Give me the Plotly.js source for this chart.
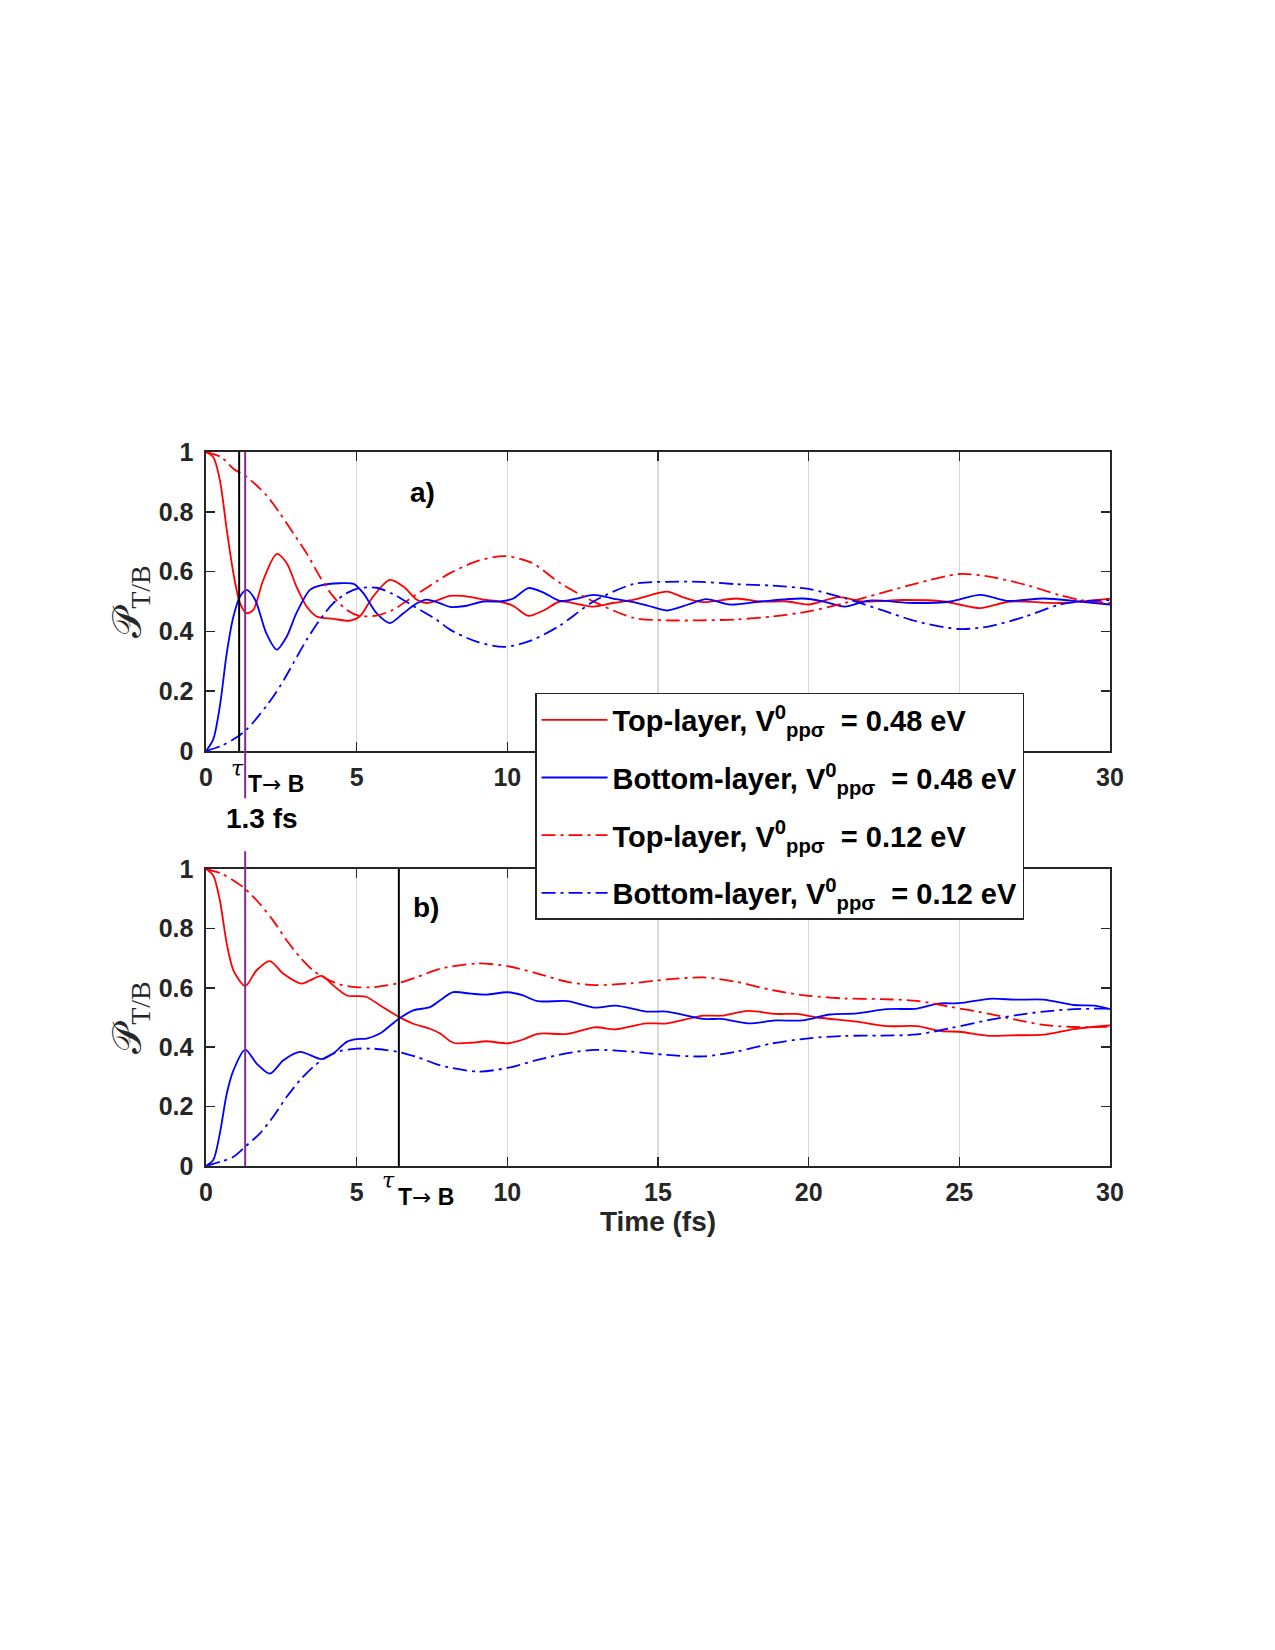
<!DOCTYPE html>
<html>
<head>
<meta charset="utf-8">
<script src="https://cdn.plot.ly/plotly-3.0.1.min.js"></script>
<style>html,body{margin:0;padding:0;background:#fff;}#chart{width:1275px;height:1650px;}</style>
</head>
<body>
<div id="chart"></div>
<script>
// ---------- Data ----------
// Panel a) — V0_ppσ = 0.48 eV (solid) and 0.12 eV (dash-dot)
const tA_top48 = [0,0.24,0.46,0.69,0.91,1.13,1.35,1.57,1.9,2.35,2.68,3.0,3.34,3.67,4.22,4.78,5.1,5.55,6.1,6.55,7.0,7.32,7.7,8.1,8.8,9.2,9.75,10.2,10.7,11.2,11.75,12.4,12.86,13.5,14.2,14.7,15.3,15.9,16.5,17.6,18.4,19.3,20.0,21.0,21.8,23.1,24.5,25.0,25.7,26.7,28.3,30];
const pA_top48 = [1.0,0.983,0.906,0.739,0.594,0.494,0.461,0.472,0.572,0.659,0.628,0.55,0.483,0.45,0.442,0.436,0.45,0.517,0.572,0.55,0.506,0.495,0.505,0.519,0.515,0.506,0.5,0.485,0.452,0.47,0.5,0.49,0.483,0.495,0.506,0.52,0.533,0.512,0.498,0.51,0.5,0.5,0.49,0.515,0.5,0.505,0.5,0.49,0.478,0.5,0.495,0.51];

const tA_bot48 = [0,0.24,0.46,0.69,0.91,1.13,1.35,1.63,2.0,2.35,2.68,3.0,3.45,3.78,4.45,4.9,5.22,5.66,6.1,6.55,7.0,7.32,7.77,8.1,8.6,9.2,9.75,10.2,10.7,11.2,11.75,12.3,12.86,13.5,14.2,14.7,15.3,16.0,16.6,17.4,18.4,19.8,20.5,21.2,22.0,23.5,24.7,25.7,26.6,27.8,29.0,30];
const pA_bot48 = [0,0.039,0.15,0.328,0.45,0.517,0.539,0.506,0.394,0.339,0.383,0.461,0.539,0.553,0.561,0.559,0.528,0.461,0.428,0.461,0.494,0.506,0.494,0.482,0.485,0.5,0.5,0.51,0.545,0.53,0.502,0.51,0.522,0.51,0.498,0.485,0.47,0.49,0.508,0.49,0.5,0.51,0.5,0.483,0.503,0.495,0.5,0.522,0.502,0.51,0.5,0.49];

const tA_12 = [0,0.5,0.91,1.35,2.0,2.46,2.9,3.34,3.78,4.22,4.67,5.1,5.66,6.2,6.88,7.65,8.1,9.0,9.9,10.8,11.75,12.86,14.2,15.3,16.4,17.6,18.8,20.0,21.2,22.4,23.6,25.0,26.0,27.2,28.3,29.0,30];
const pA_top12 = [1.0,0.983,0.944,0.917,0.856,0.794,0.728,0.661,0.583,0.517,0.472,0.452,0.453,0.472,0.517,0.567,0.595,0.635,0.652,0.63,0.562,0.5,0.445,0.437,0.437,0.44,0.45,0.467,0.495,0.528,0.561,0.592,0.583,0.556,0.522,0.505,0.495];
const pA_bot12 = [0,0.017,0.039,0.072,0.15,0.217,0.294,0.372,0.439,0.494,0.528,0.545,0.546,0.525,0.485,0.439,0.406,0.365,0.348,0.37,0.42,0.5,0.559,0.566,0.566,0.558,0.553,0.542,0.511,0.472,0.433,0.408,0.417,0.45,0.489,0.5,0.505];

// Panel b)
const tB_top48 = [0,0.24,0.46,0.69,0.91,1.3,1.68,2.12,2.57,3.17,3.45,3.84,4.22,4.67,5.0,5.33,5.77,6.4,6.88,7.43,7.77,8.2,8.8,9.3,10.0,10.5,11.0,12.0,12.9,13.6,14.6,15.3,16.5,17.1,18.0,18.9,19.6,20.3,21.6,22.6,23.6,24.4,25.0,26.0,26.7,27.8,28.8,30];
const pB_top48 = [1.0,0.978,0.894,0.748,0.659,0.606,0.659,0.69,0.647,0.614,0.625,0.64,0.608,0.574,0.572,0.569,0.541,0.502,0.479,0.462,0.446,0.415,0.415,0.42,0.413,0.425,0.445,0.445,0.467,0.46,0.48,0.48,0.506,0.506,0.522,0.512,0.512,0.5,0.486,0.471,0.471,0.454,0.452,0.438,0.44,0.442,0.461,0.473];

const tB_bot48 = [0,0.24,0.46,0.69,0.91,1.3,1.68,2.12,2.57,3.12,3.84,4.22,4.67,5.0,5.33,5.77,6.4,6.88,7.43,7.77,8.2,8.8,9.3,10.0,10.5,11.0,12.0,12.9,13.6,14.6,15.3,16.5,17.1,18.0,18.9,19.8,20.7,21.6,22.6,23.6,24.3,25.0,26.0,26.9,27.8,28.8,29.5,30];
const pB_bot48 = [0,0.02,0.11,0.244,0.322,0.392,0.345,0.311,0.356,0.384,0.36,0.379,0.418,0.427,0.429,0.446,0.496,0.524,0.535,0.558,0.585,0.58,0.577,0.585,0.575,0.555,0.555,0.533,0.54,0.52,0.52,0.495,0.495,0.48,0.49,0.49,0.51,0.514,0.528,0.53,0.547,0.548,0.563,0.56,0.56,0.542,0.54,0.528];

const tB_12 = [0,0.5,0.91,1.3,1.79,2.23,2.68,3.12,3.56,4.0,4.45,5.0,5.55,6.0,6.4,7.0,7.77,9.0,10.0,11.0,12.0,12.9,14.1,15.3,16.5,17.6,18.8,20.0,21.2,22.4,23.6,24.7,26.0,26.9,27.8,28.8,30];
const pB_top12 = [1.0,0.985,0.961,0.933,0.882,0.826,0.759,0.703,0.658,0.63,0.611,0.602,0.602,0.608,0.616,0.636,0.664,0.682,0.673,0.648,0.62,0.609,0.615,0.628,0.635,0.62,0.592,0.573,0.564,0.562,0.556,0.536,0.512,0.492,0.475,0.468,0.469];
const pB_bot12 = [0,0.015,0.031,0.065,0.11,0.166,0.233,0.289,0.334,0.367,0.387,0.395,0.395,0.39,0.384,0.367,0.339,0.318,0.33,0.357,0.38,0.391,0.385,0.374,0.369,0.385,0.413,0.43,0.438,0.439,0.443,0.464,0.492,0.508,0.52,0.528,0.53];

// Marker times (fs)
const tauA = 1.1;    // τ T→B, panel a
const mark13 = 1.3;  // 1.3 fs marker
const tauB = 6.4;    // τ T→B, panel b

const legendNames = [
  'Top-layer, V<sup>0</sup><sub>ppσ</sub>\u00a0 = 0.48 eV',
  'Bottom-layer, V<sup>0</sup><sub>ppσ</sub>\u00a0 = 0.48 eV',
  'Top-layer, V<sup>0</sup><sub>ppσ</sub>\u00a0 = 0.12 eV',
  'Bottom-layer, V<sup>0</sup><sub>ppσ</sub>\u00a0 = 0.12 eV'
];
const xTicks = [0,5,10,15,20,25,30];
const xTickTextA = ['0','5','10','','','','30'];   // 15–25 are hidden behind the legend in panel a
const xTickTextB = ['0','5','10','15','20','25','30'];
const yTicks = [0,0.2,0.4,0.6,0.8,1];
const yTickText = ['0','0.2','0.4','0.6','0.8','1'];

// ---------- Styling ----------
const RED = '#ff0000', BLUE = '#0000ff', PURPLE = '#7e2f8e', AX = '#262626';
const DASHDOT = '14px,5px,3px,5px';
const LW = 1.8;
const FONT = 'Liberation Sans, Arial, Helvetica, sans-serif';

function tr(x, y, color, dash, name, xa, ya, showlegend, group) {
  return {
    x: x, y: y, type: 'scatter', mode: 'lines', name: name,
    xaxis: xa, yaxis: ya, showlegend: showlegend, legendgroup: group,
    line: {color: color, width: LW, dash: dash, shape: 'spline', smoothing: 0.8},
    hoverinfo: 'skip'
  };
}

const data = [
  tr(tA_top48, pA_top48, RED, 'solid', legendNames[0], 'x', 'y', true, 'g1'),
  tr(tA_bot48, pA_bot48, BLUE, 'solid', legendNames[1], 'x', 'y', true, 'g2'),
  tr(tA_12, pA_top12, RED, DASHDOT, legendNames[2], 'x', 'y', true, 'g3'),
  tr(tA_12, pA_bot12, BLUE, DASHDOT, legendNames[3], 'x', 'y', true, 'g4'),
  tr(tB_top48, pB_top48, RED, 'solid', legendNames[0], 'x2', 'y2', false, 'g1'),
  tr(tB_bot48, pB_bot48, BLUE, 'solid', legendNames[1], 'x2', 'y2', false, 'g2'),
  tr(tB_12, pB_top12, RED, DASHDOT, legendNames[2], 'x2', 'y2', false, 'g3'),
  tr(tB_12, pB_bot12, BLUE, DASHDOT, legendNames[3], 'x2', 'y2', false, 'g4')
];

const tickFont = {family: FONT, size: 25, color: AX, weight: 'bold'};

function xAxis(anchor, ticktext, title) {
  const a = {
    anchor: anchor, domain: [0, 1], range: [0, 30], tickvals: xTicks, ticktext: ticktext,
    showgrid: true, gridcolor: '#dadada', gridwidth: 1.5,
    zeroline: false, showline: true, linecolor: AX, linewidth: 1.6,
    mirror: 'ticks', ticks: 'inside', ticklen: 9, tickwidth: 1.6, tickcolor: AX,
    tickfont: tickFont, ticklabelstandoff: 3, fixedrange: true
  };
  if (title) a.title = {text: title, font: {family: FONT, size: 28, color: AX, weight: 'bold'}, standoff: 2};
  return a;
}
function yAxis(anchor, domain) {
  return {
    anchor: anchor, domain: domain, range: [0, 1], tickvals: yTicks, ticktext: yTickText,
    showgrid: false, zeroline: false, showline: true, linecolor: AX, linewidth: 1.6,
    mirror: 'ticks', ticks: 'inside', ticklen: 9, tickwidth: 1.6, tickcolor: AX,
    tickfont: tickFont, ticklabelstandoff: 6, fixedrange: true,
    title: {text: '𝒫<sub>T/B</sub>', font: {family: 'Liberation Serif, DejaVu Serif, serif', size: 40, color: AX}, standoff: 4}
  };
}

const labelFont = {family: FONT, size: 28, color: '#000', weight: 'bold'};
const tauFont = {family: 'DejaVu Serif, Liberation Serif, serif', size: 22, color: '#000'};
const subFont = {family: FONT, size: 23, color: '#000', weight: 'bold'};
const arrowLabel = 'T<span style="font-family:DejaVu Sans;font-weight:normal">→</span> B';

function ann(text, xref, yref, x, y, font) {
  return {text: text, xref: xref, yref: yref, x: x, y: y, showarrow: false,
          xanchor: 'center', yanchor: 'middle', font: font};
}

const layout = {
  width: 1275, height: 1650,
  margin: {l: 206, r: 165, t: 452, b: 484},
  paper_bgcolor: '#fff', plot_bgcolor: '#fff',
  showlegend: true,
  xaxis: xAxis('y', xTickTextA, null),
  yaxis: yAxis('x', [0.5812, 1]),
  xaxis2: xAxis('y2', xTickTextB, 'Time (fs)'),
  yaxis2: yAxis('x2', [0, 0.416]),
  legend: {
    x: 0.364, y: 0.6625, xanchor: 'left', yanchor: 'top',
    bgcolor: '#fff', bordercolor: AX, borderwidth: 1.5,
    font: {family: FONT, size: 29, color: '#000', weight: 'bold'},
    tracegroupgap: 17, itemwidth: 66
  },
  shapes: [
    {type: 'line', xref: 'x', yref: 'y domain', x0: tauA, x1: tauA, y0: 0, y1: 1, line: {color: '#000', width: 2}},
    {type: 'line', xref: 'x', yref: 'y domain', x0: mark13, x1: mark13, y0: -0.158, y1: 1, line: {color: PURPLE, width: 2}},
    {type: 'line', xref: 'x2', yref: 'y2 domain', x0: mark13, x1: mark13, y0: 0, y1: 1.06, line: {color: PURPLE, width: 2}},
    {type: 'line', xref: 'x2', yref: 'y2 domain', x0: tauB, x1: tauB, y0: 0, y1: 1, line: {color: '#000', width: 2}}
  ],
  annotations: [
    ann('a)', 'x', 'y', 7.2, 0.863, labelFont),
    ann('b)', 'x2', 'y2', 7.3, 0.869, labelFont),
    ann('<i>τ</i>', 'x', 'y domain', 1.03, -0.057, tauFont),
    ann(arrowLabel, 'x', 'y domain', 2.32, -0.11, subFont),
    ann('1.3 fs', 'x', 'y domain', 1.86, -0.224, labelFont),
    ann('<i>τ</i>', 'x2', 'y2 domain', 6.04, -0.05, tauFont),
    ann(arrowLabel, 'x2', 'y2 domain', 7.3, -0.104, subFont)
  ]
};

Plotly.newPlot('chart', data, layout, {staticPlot: true, displayModeBar: false});
</script>
</body>
</html>
